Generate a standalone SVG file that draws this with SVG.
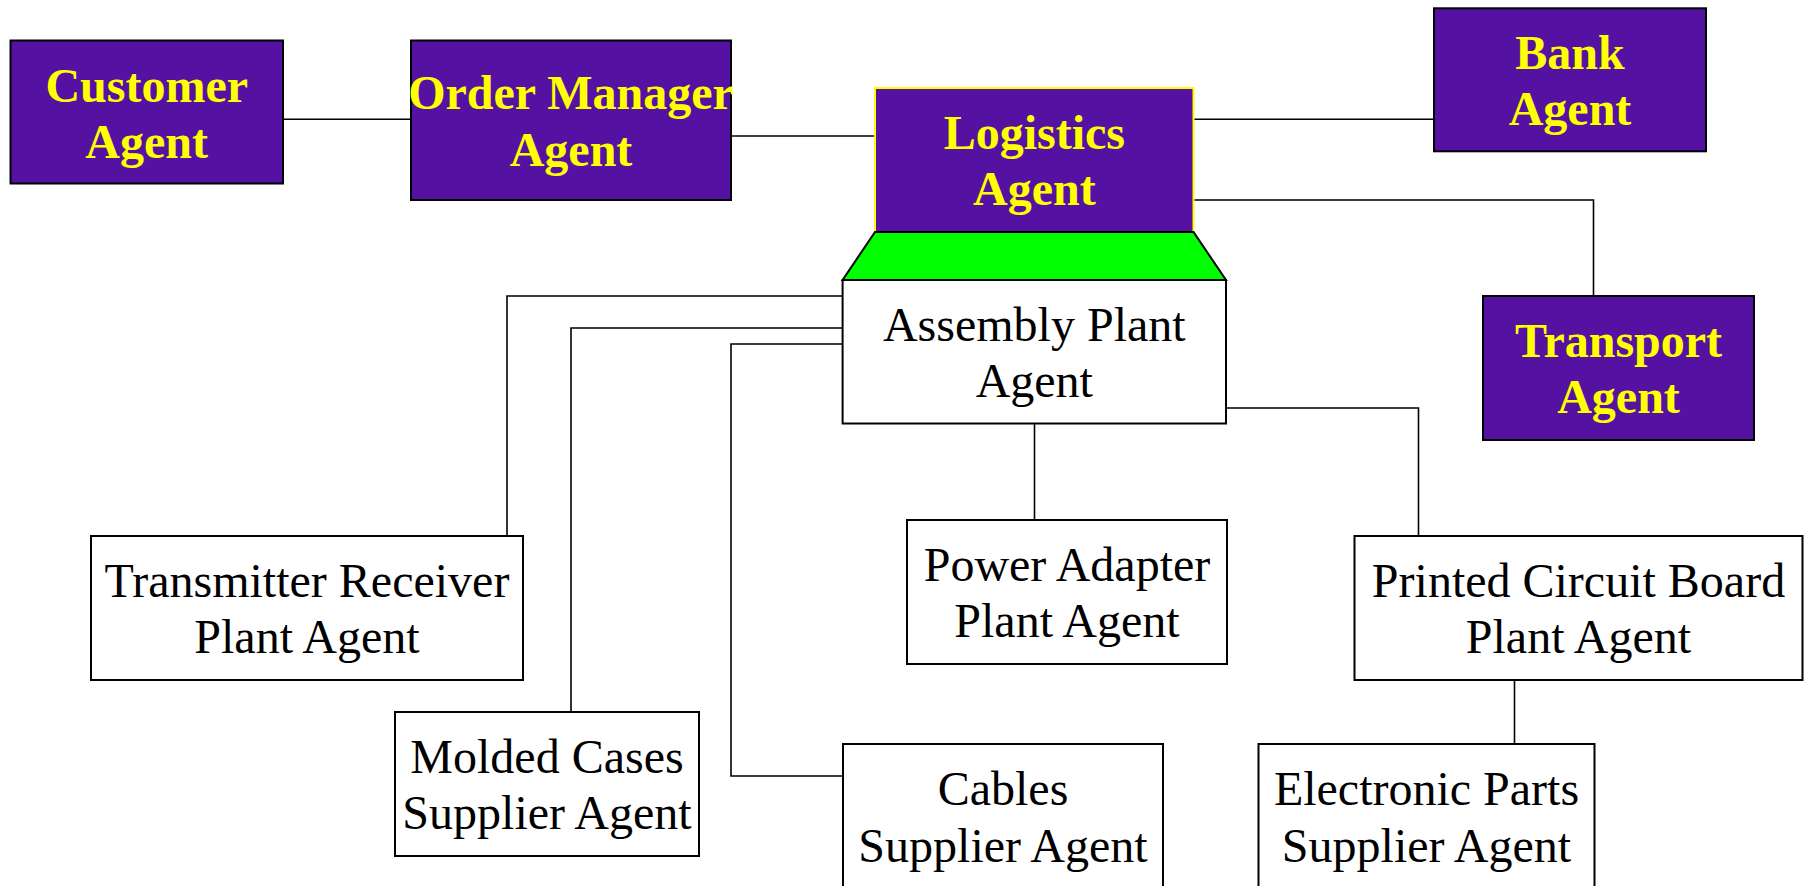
<svg xmlns="http://www.w3.org/2000/svg" width="1810" height="886" viewBox="0 0 1810 886">
<style>
.bg{fill:#ffffff}
.p{fill:#5511A1;stroke:#000;stroke-width:2}
.w{fill:#fff;stroke:#000;stroke-width:2}
.c{fill:none;stroke:#000;stroke-width:1.6}
.tb{font-family:"Liberation Serif","Times New Roman",serif;font-size:48px;font-weight:bold;fill:#FFFF00;text-anchor:middle}
.t{font-family:"Liberation Serif","Times New Roman",serif;font-size:48px;fill:#000;text-anchor:middle}
</style>
<rect class="bg" x="0" y="0" width="1810" height="886"/>
<g id="connectors">
<path class="c" d="M283,119.3H411"/>
<path class="c" d="M731,136H875"/>
<path class="c" d="M1193.5,119.3H1434"/>
<path class="c" d="M1193.5,200H1593.5V296"/>
<path class="c" d="M842.6,296H507V536"/>
<path class="c" d="M842.6,328H571V712"/>
<path class="c" d="M842.6,344H731V776H843"/>
<path class="c" d="M1034.5,423.5V520"/>
<path class="c" d="M1226,408H1418.5V536"/>
<path class="c" d="M1514.5,680V744"/>
</g>
<g id="customer">
<rect class="p" x="10.5" y="40.5" width="272.5" height="143"/>
<text class="tb" x="146.7" y="101.5">Customer</text>
<text class="tb" x="146.7" y="158">Agent</text>
</g>
<g id="order-manager">
<rect class="p" x="411" y="40.5" width="320" height="159.5"/>
<text class="tb" x="571" y="109">Order Manager</text>
<text class="tb" x="571" y="165.5">Agent</text>
</g>
<g id="logistics">
<rect x="875" y="88" width="318.5" height="144" fill="#5511A1" stroke="#FFFF00" stroke-width="2"/>
<text class="tb" x="1034.3" y="148.5">Logistics</text>
<text class="tb" x="1034.3" y="205.2">Agent</text>
</g>
<g id="bank">
<rect class="p" x="1434" y="8.3" width="272" height="143"/>
<text class="tb" x="1570" y="68.5">Bank</text>
<text class="tb" x="1570" y="125.2">Agent</text>
</g>
<g id="transport">
<rect class="p" x="1483" y="296" width="271" height="144"/>
<text class="tb" x="1618.5" y="356.5">Transport</text>
<text class="tb" x="1618.5" y="413.2">Agent</text>
</g>
<g id="assembly-plant">
<polygon points="875,232 1193.5,232 1226,280 842.6,280" fill="#00FF00" stroke="#000" stroke-width="2" stroke-linejoin="miter"/>
<rect class="w" x="842.6" y="280" width="383.4" height="143.5"/>
<text class="t" x="1034.3" y="340.5">Assembly Plant</text>
<text class="t" x="1034.3" y="397.2">Agent</text>
</g>
<g id="transmitter-receiver">
<rect class="w" x="91" y="536" width="432" height="144"/>
<text class="t" x="307" y="596.5">Transmitter Receiver</text>
<text class="t" x="307" y="653.2">Plant Agent</text>
</g>
<g id="molded-cases">
<rect class="w" x="395" y="712" width="304" height="144"/>
<text class="t" x="547" y="772.5">Molded Cases</text>
<text class="t" x="547" y="829.2">Supplier Agent</text>
</g>
<g id="power-adapter">
<rect class="w" x="907" y="520" width="320" height="144"/>
<text class="t" x="1067" y="580.5">Power Adapter</text>
<text class="t" x="1067" y="637.2">Plant Agent</text>
</g>
<g id="pcb">
<rect class="w" x="1354.5" y="536" width="448" height="144"/>
<text class="t" x="1578.5" y="596.5">Printed Circuit Board</text>
<text class="t" x="1578.5" y="653.2">Plant Agent</text>
</g>
<g id="cables">
<rect class="w" x="843" y="744" width="320" height="150"/>
<text class="t" x="1003" y="805">Cables</text>
<text class="t" x="1003" y="861.7">Supplier Agent</text>
</g>
<g id="electronic-parts">
<rect class="w" x="1258.5" y="744" width="336" height="150"/>
<text class="t" x="1426.5" y="805">Electronic Parts</text>
<text class="t" x="1426.5" y="861.7">Supplier Agent</text>
</g>
</svg>
